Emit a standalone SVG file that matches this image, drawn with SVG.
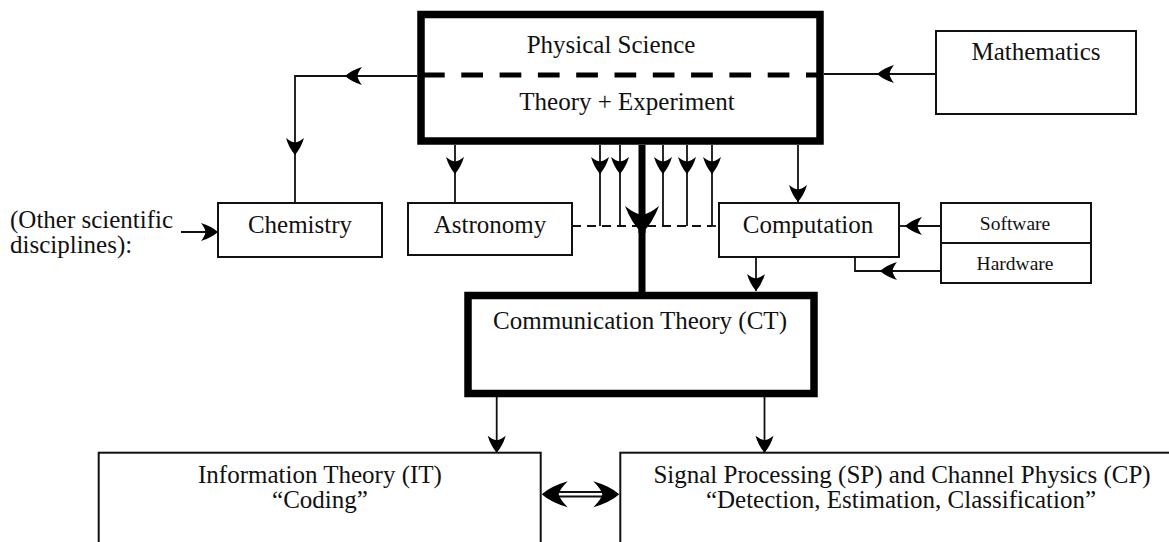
<svg xmlns="http://www.w3.org/2000/svg" width="1169" height="542" viewBox="0 0 1169 542">
<style>
text{font-family:"Liberation Serif","Times New Roman",serif;fill:#111;text-anchor:middle;font-size:25px}
.s{font-size:19.5px}
.l{text-anchor:start}
.box{fill:none;stroke:#111;stroke-width:2}
.thick{fill:none;stroke:#000;stroke-width:7.5}
.c{fill:none;stroke:#111;stroke-width:1.8}
</style>
<defs>
<marker id="a" viewBox="-18 -10 19 20" refX="0" refY="0" markerWidth="19" markerHeight="20" markerUnits="userSpaceOnUse" orient="auto">
<path d="M0,0 Q-7,-6 -17,-9 Q-13,-4 -12.5,0 Q-13,4 -17,9 Q-7,6 0,0 Z" fill="#000"/>
</marker>
<marker id="big" viewBox="-28 -18 29 36" refX="0" refY="0" markerWidth="29" markerHeight="36" markerUnits="userSpaceOnUse" orient="auto">
<path d="M0,0 Q-9,-10 -27,-17 Q-19,-7 -18,0 Q-19,7 -27,17 Q-9,10 0,0 Z" fill="#000"/>
</marker>
<marker id="dbl" viewBox="-27 -14 28 28" refX="0" refY="0" markerWidth="28" markerHeight="28" markerUnits="userSpaceOnUse" orient="auto-start-reverse">
<path d="M0,0 Q-9,-8 -26,-13 Q-18,-5 -17,0 Q-18,5 -26,13 Q-9,8 0,0 Z" fill="#000"/>
</marker>
</defs>
<rect width="1169" height="542" fill="#fff"/>

<g id="connectors">
<path class="c" d="M417,76 H345" marker-end="url(#a)"/>
<path class="c" d="M345,76 H295 V155" marker-end="url(#a)"/>
<path class="c" d="M295,155 V203"/>
<path class="c" d="M181,232 H218" marker-end="url(#a)"/>
<path class="c" d="M936,74 H877" marker-end="url(#a)"/>
<path class="c" d="M877,74 H824"/>
<path class="c" d="M455,145 V174" marker-end="url(#a)"/>
<path class="c" d="M455,173 V203"/>
<path class="c" d="M600,145 V174" marker-end="url(#a)"/>
<path class="c" d="M620,145 V174" marker-end="url(#a)"/>
<path class="c" d="M663,145 V174" marker-end="url(#a)"/>
<path class="c" d="M687,145 V174" marker-end="url(#a)"/>
<path class="c" d="M712,145 V174" marker-end="url(#a)"/>
<path class="c" d="M600,173 V226 M620,173 V226 M663,173 V226 M687,173 V226 M712,173 V226"/>
<path class="c" d="M572,226 H712" stroke-dasharray="9 6"/>
<path class="c" d="M707,226 H716"/>
<path class="c" d="M798,145 V202" marker-end="url(#a)"/>
<path class="c" d="M941,226 H905" marker-end="url(#a)"/>
<path class="c" d="M905,226 H898"/>
<path class="c" d="M941,271 H880" marker-end="url(#a)"/>
<path class="c" d="M880,271 H855 V257"/>
<path class="c" d="M756,257 V291" marker-end="url(#a)"/>
<path d="M642,145 V233" fill="none" stroke="#000" stroke-width="7" marker-end="url(#big)"/>
<path d="M642,228 V292" fill="none" stroke="#000" stroke-width="7"/>
<path class="c" d="M496.7,397 V452.7" marker-end="url(#a)"/>
<path class="c" d="M764.5,397 V452.7" marker-end="url(#a)"/>
<path class="c" d="M556,492 H605 M556,496.5 H605"/>
<path d="M541.7,494.2 H619.3" fill="none" stroke="none" marker-start="url(#dbl)" marker-end="url(#dbl)"/>
</g>

<g id="physical-science">
<rect class="thick" x="421" y="14.5" width="399" height="126.5"/>
<path d="M423,75 H817" stroke="#000" stroke-width="5" stroke-dasharray="21.7 16.6" fill="none"/>
<text x="611" y="53">Physical Science</text>
<text x="627" y="110">Theory + Experiment</text>
</g>

<g id="mathematics">
<rect class="box" x="936" y="31" width="200" height="83"/>
<text x="1036" y="60">Mathematics</text>
</g>

<g id="other">
<text class="l" x="10" y="228">(Other scientific</text>
<text class="l" x="10" y="253">disciplines):</text>
</g>

<g id="chemistry">
<rect class="box" x="218" y="203" width="164" height="54"/>
<text x="300" y="233">Chemistry</text>
</g>

<g id="astronomy">
<rect class="box" x="408" y="203" width="164" height="52"/>
<text x="490" y="233">Astronomy</text>
</g>

<g id="computation">
<rect class="box" x="719" y="203" width="180" height="54"/>
<text x="808" y="233">Computation</text>
</g>

<g id="software-hardware">
<rect class="box" x="941" y="203" width="150" height="80"/>
<path class="box" d="M941,243 H1091"/>
<text class="s" x="1015" y="229.5">Software</text>
<text class="s" x="1015" y="270">Hardware</text>
</g>

<g id="communication-theory">
<rect class="thick" x="468" y="295.5" width="346" height="98"/>
<text x="640" y="328.5">Communication Theory (CT)</text>
</g>

<g id="information-theory">
<rect class="box" x="98.7" y="452.7" width="442" height="120"/>
<text x="320" y="483">Information Theory (IT)</text>
<text x="320" y="508">“Coding”</text>
</g>

<g id="signal-processing">
<rect class="box" x="620.3" y="452.7" width="580" height="120"/>
<text x="902" y="483">Signal Processing (SP) and Channel Physics (CP)</text>
<text x="901" y="508">“Detection, Estimation, Classification”</text>
</g>
</svg>
